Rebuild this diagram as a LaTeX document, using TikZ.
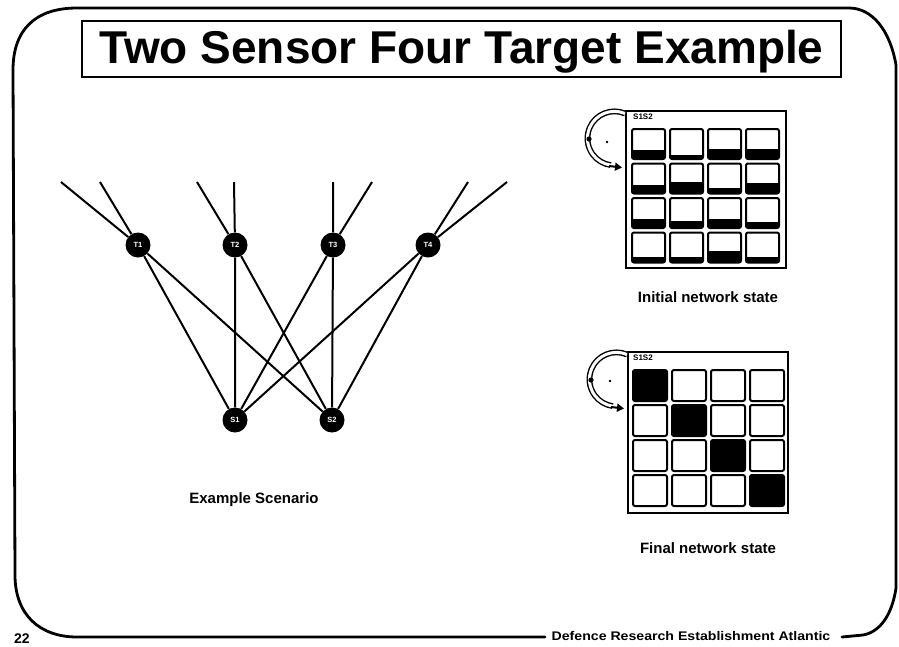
\documentclass[tikz,border=0pt]{standalone}
\usepackage{fontspec}
\setmainfont{Liberation Sans}
\usetikzlibrary{arrows.meta}
\tikzset{
  border/.style={line width=2.8pt, line cap=round, line join=round},
  dot/.style={circle, fill=black, minimum size=25pt, inner sep=0pt,
    text=white, font=\bfseries\fontsize{7.5}{7.5}\selectfont},
  ray/.style={line width=2pt},
  cell/.style={line width=2pt, rounded corners=2pt},
  gridbox/.style={line width=1.6pt},
  lbl/.style={font=\bfseries\fontsize{15}{15}\selectfont},
  tiny/.style={font=\bfseries\fontsize{8}{8}\selectfont, inner sep=0pt, anchor=north west},
  turn/.style={line width=1.4pt, double=white, double distance=3pt},
  tip/.style={-{Triangle[length=7pt,width=8pt]}, line width=2pt},
}
\begin{document}
\begin{tikzpicture}[x=1pt,y=-1pt]
\useasboundingbox (0,0) rectangle (899,646);
% frame
\draw[border] (13,70) .. controls (13,30) and (35,8) .. (77,8) -- (849,8)
  .. controls (872,8) and (890,30) .. (896,65) -- (896,588)
  .. controls (892,615) and (880,632) .. (863,635) -- (842,637);
\draw[border] (545,637) -- (77,637) .. controls (40,637) and (15,615) .. (15,575) -- (13,70);
\node[font=\bfseries\fontsize{12.5}{12.5}\selectfont, inner sep=0pt] (org) at (691,636)
  {\scalebox{1.13}[1]{Defence Research Establishment Atlantic}};
\node[font=\bfseries\fontsize{14}{14}\selectfont, inner sep=0pt] (pg) at (22,639) {22};
% title
\node[draw, line width=1.8pt, minimum width=759pt, minimum height=56pt, inner sep=0pt,
  text height=33pt, text depth=5pt, font=\bfseries\fontsize{46}{46}\selectfont]
  (title) at (461.5,49) {Two Sensor Four Target Example};
% scenario
\node[dot] (T1) at (138,245) {T1};
\node[dot] (T2) at (235,245) {T2};
\node[dot] (T3) at (333,245) {T3};
\node[dot] (T4) at (428,245) {T4};
\node[dot] (S1) at (235,420) {S1};
\node[dot] (S2) at (332,420) {S2};
\coordinate (a1) at (100,182); \coordinate (b1) at (61,182);
\coordinate (a2) at (234,182); \coordinate (b2) at (197,182);
\coordinate (a3) at (372,182); \coordinate (b3) at (333,182);
\coordinate (a4) at (507,182); \coordinate (b4) at (468,182);
\foreach \i in {1,2,3,4}{
  \draw[ray] (S1) -- (T\i) -- (a\i);
  \draw[ray] (S2) -- (T\i) -- (b\i);
}
\node[lbl] (scen) at (254,500) {Example Scenario};
% initial network
\draw[gridbox] (626,111) rectangle (786,268);
\node[tiny] (lab1) at (633,114) {S1S2};
\foreach \r/\fa/\fb/\fc/\fd in {0/.29/.13/.32/.35, 1/.30/.37/.17/.34, 2/.30/.25/.30/.19, 3/.17/.17/.40/.17}{
  \foreach \c/\f in {0/\fa,1/\fb,2/\fc,3/\fd}{
    \fill ({632+38*\c},{129+34.5*\r+30*(1-\f)}) rectangle ({665+38*\c},{159+34.5*\r});
    \draw[cell] ({632+38*\c},{129+34.5*\r}) rectangle ({665+38*\c},{159+34.5*\r});
  }
}
\draw[turn] (625,113.5) arc[start angle=-67, end angle=-262, radius=27];
\draw[tip] (609,166) -- (622,167.5);
\fill (589,139) circle (2.6pt);
\fill (607,142) circle (1.3pt);
\node[lbl] (init) at (708,297) {Initial network state};
% final network
\draw[gridbox] (628,352) rectangle (788,513);
\node[tiny] (lab2) at (633,355) {S1S2};
\foreach \r in {0,1,2,3}{
  \foreach \c in {0,1,2,3}{
    \ifnum\r=\c
      \fill[rounded corners=2pt] ({633+39*\c},{370+35*\r}) rectangle ({667+39*\c},{401+35*\r});
    \fi
    \draw[cell] ({633+39*\c},{370+35*\r}) rectangle ({667+39*\c},{401+35*\r});
  }
}
\draw[turn] (627,354.5) arc[start angle=-67, end angle=-262, radius=27];
\draw[tip] (611,407) -- (624,408.5);
\fill (591,380) circle (2.6pt);
\fill (610,381) circle (1.3pt);
\node[lbl] (fin) at (708,548) {Final network state};
\end{tikzpicture}
\end{document}
